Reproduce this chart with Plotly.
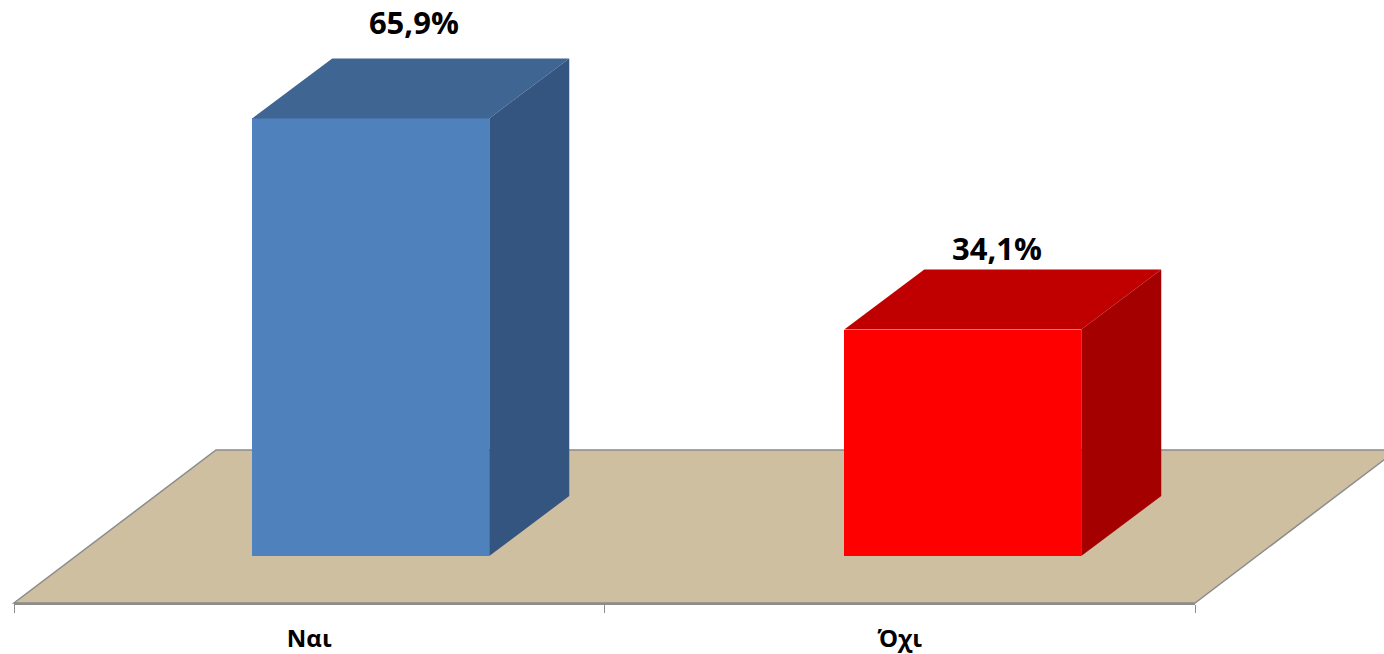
import plotly.graph_objects as go

categories = ["Ναι", "Όχι"]
values = [65.9, 34.1]
value_labels = ["65,9%", "34,1%"]
label_dx = [0.073, 0.058]
label_dy = [4.9, 2.64]
front_colors = ["#4F81BD", "#FF0000"]
top_colors = ["#3F6593", "#C00000"]
side_colors = ["#335580", "#A50000"]

W, H = 1384, 654
PLOT_L, PLOT_R, PLOT_B = 14, 1195, 603
PX_X = (PLOT_R - PLOT_L) / 2
PX_Y = 6.64
BASE_PX = 556
Y_MIN = -(PLOT_B - BASE_PX) / PX_Y
Y_MAX = BASE_PX / PX_Y
BAR_W = 237 / PX_X
BAR_SHIFT = 61.5 / PX_X
BAR_STEP = 592 / PX_X
DEPTH_X = 80 / PX_X
DEPTH_Y = 60 / PX_Y

fig = go.Figure()
xs = [i * BAR_STEP + BAR_SHIFT for i in range(len(categories))]
fig.add_trace(go.Bar(x=xs, y=values, width=BAR_W, marker=dict(color=front_colors, line=dict(width=0)),
                     hoverinfo="skip", showlegend=False))

for x, v, tc, sc in zip(xs, values, top_colors, side_colors):
    l, r = x - BAR_W / 2, x + BAR_W / 2
    fig.add_trace(go.Scatter(x=[l, r, r + DEPTH_X, l + DEPTH_X, l], y=[v, v, v + DEPTH_Y, v + DEPTH_Y, v],
                             mode="lines", fill="toself", fillcolor=tc, line=dict(width=0),
                             hoverinfo="skip", showlegend=False, cliponaxis=False))
    fig.add_trace(go.Scatter(x=[r, r + DEPTH_X, r + DEPTH_X, r, r], y=[0, DEPTH_Y, v + DEPTH_Y, v, 0],
                             mode="lines", fill="toself", fillcolor=sc, line=dict(width=0),
                             hoverinfo="skip", showlegend=False, cliponaxis=False))

fig.add_trace(go.Scatter(x=[x + d for x, d in zip(xs, label_dx)],
                         y=[v + DEPTH_Y + d for v, d in zip(values, label_dy)],
                         mode="text", text=value_labels, textposition="middle center",
                         textfont=dict(family="Open Sans", size=31, color="#000000", weight="bold"),
                         hoverinfo="skip", showlegend=False, cliponaxis=False))

px = lambda p: (p - PLOT_L) / (PLOT_R - PLOT_L)
py = lambda p: (PLOT_B - p) / PLOT_B
floor = [(14, 603), (1195, 603), (1397, 450), (216, 450)]
path = "M " + " L ".join(f"{px(a):.5f} {py(b):.5f}" for a, b in floor) + " Z"
fig.add_shape(type="path", path=path, xref="paper", yref="paper", layer="below",
              fillcolor="#CDBF9F", line=dict(color="#8C8C8C", width=1.5))

fig.update_layout(
    width=W, height=H, autosize=False, bargap=0,
    margin=dict(l=PLOT_L, r=W - PLOT_R, t=0, b=H - PLOT_B, pad=0, autoexpand=False),
    paper_bgcolor="white", plot_bgcolor="rgba(0,0,0,0)",
    xaxis=dict(range=[-0.5, 1.5], tickmode="array", tickvals=list(range(len(categories))), ticktext=categories,
               ticks="", ticklen=0, showgrid=False, zeroline=False, showline=True, linecolor="#8C8C8C", linewidth=1.5,
               automargin=False, ticklabelstandoff=13,
               tickfont=dict(family="Open Sans", size=24, color="#000000", weight="bold"),
               minor=dict(tickmode="array", tickvals=[-0.5, 0.5, 1.5], ticks="outside", ticklen=8,
                          tickcolor="#8C8C8C", tickwidth=1, showgrid=False)),
    yaxis=dict(range=[Y_MIN, Y_MAX], visible=False, fixedrange=True, automargin=False),
)
fig.write_html("out.html", config={"displayModeBar": False},
               post_script="document.body.style.margin='0';document.body.style.overflow='hidden';")
